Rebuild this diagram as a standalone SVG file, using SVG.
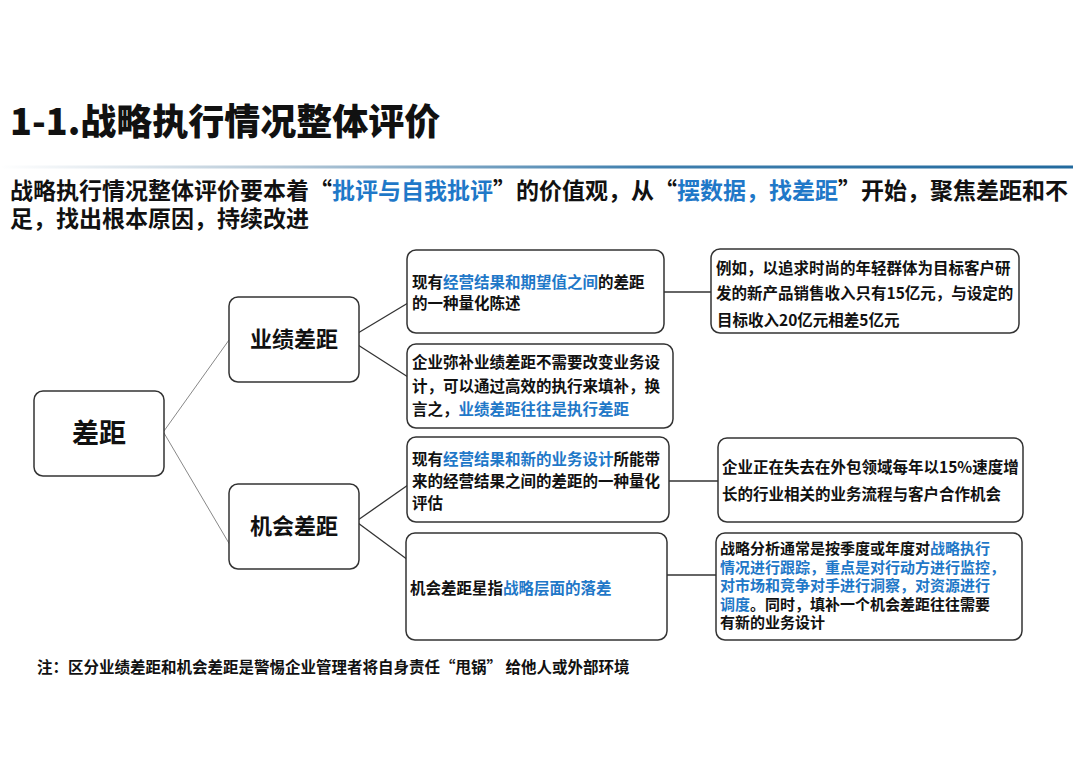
<svg xmlns="http://www.w3.org/2000/svg" width="1080" height="763" viewBox="0 0 1080 763">
<defs>
<linearGradient id="hl" x1="0" y1="0" x2="1" y2="0">
<stop offset="0" stop-color="#ffffff"/>
<stop offset="0.25" stop-color="#b9cbd9"/>
<stop offset="0.6" stop-color="#3f7fae"/>
<stop offset="1" stop-color="#226a9e"/>
</linearGradient>
</defs>
<style>
text{font-family:"Noto Sans CJK SC","Noto Sans",sans-serif;font-weight:bold;fill:#111}
.b{fill:#1f78c8}
.box{fill:#fff;stroke:#333;stroke-width:1.5}
.t{font-size:15.5px}
.s{font-size:15px}
.n{font-size:22px}
.c{stroke:#333;stroke-width:1.3;fill:none}
.cl{stroke:#888;stroke-width:1;fill:none}
</style>
<rect width="1080" height="763" fill="#fff"/>
<text x="10" y="135" style="font-size:36px;font-weight:900">1-1.战略执行情况整体评价</text>
<rect x="0" y="165.5" width="1073" height="3" fill="url(#hl)"/>
<text x="10" y="199" style="font-size:23px">战略执行情况整体评价要本着“<tspan class="b">批评与自我批评</tspan>”的价值观，从“<tspan class="b">摆数据，找差距</tspan>”开始，聚焦差距和不</text>
<text x="10" y="227" style="font-size:23px">足，找出根本原因，持续改进</text>

<g id="connectors">
<line class="cl" x1="164" y1="431" x2="229" y2="340"/>
<line class="cl" x1="164" y1="433" x2="230" y2="545"/>
<line class="c" x1="358" y1="333" x2="408" y2="303"/>
<line class="c" x1="358" y1="345" x2="408" y2="377"/>
<line class="c" x1="358" y1="520" x2="408" y2="485"/>
<line class="c" x1="358" y1="523" x2="408" y2="560"/>
<line class="c" x1="664" y1="292" x2="711" y2="292"/>
<line class="c" x1="669" y1="481" x2="718" y2="481"/>
<line class="c" x1="667" y1="575" x2="716" y2="575"/>
</g>

<g id="node-gap">
<rect class="box" x="34" y="391" width="130" height="85" rx="9"/>
<text x="99" y="443" text-anchor="middle" style="font-size:27px">差距</text>
</g>
<g id="node-perf">
<rect class="box" x="229" y="297" width="130" height="85" rx="9"/>
<text class="n" x="294" y="347" text-anchor="middle">业绩差距</text>
</g>
<g id="node-opp">
<rect class="box" x="229" y="484" width="130" height="85" rx="9"/>
<text class="n" x="294" y="534" text-anchor="middle">机会差距</text>
</g>
<g id="node-a">
<rect class="box" x="407" y="250" width="257" height="83" rx="9"/>
<text class="t" x="412" y="288">现有<tspan class="b">经营结果和期望值之间</tspan>的差距</text>
<text class="t" x="412" y="309">的一种量化陈述</text>
</g>
<g id="node-b">
<rect class="box" x="407" y="344" width="266" height="84" rx="9"/>
<text class="t" x="412" y="368">企业弥补业绩差距不需要改变业务设</text>
<text class="t" x="412" y="392">计，可以通过高效的执行来填补，换</text>
<text class="t" x="412" y="415">言之，<tspan class="b">业绩差距往往是执行差距</tspan></text>
</g>
<g id="node-c">
<rect class="box" x="407" y="437" width="262" height="85" rx="9"/>
<text class="t" x="412" y="465">现有<tspan class="b">经营结果和新的业务设计</tspan>所能带</text>
<text class="t" x="412" y="487">来的经营结果之间的差距的一种量化</text>
<text class="t" x="412" y="509">评估</text>
</g>
<g id="node-d">
<rect class="box" x="406" y="533" width="261" height="107" rx="9"/>
<text class="t" x="410" y="594">机会差距星指<tspan class="b">战略层面的落差</tspan></text>
</g>
<g id="node-e">
<rect class="box" x="711" y="249" width="308" height="84" rx="9"/>
<text class="t" x="716" y="274">例如，以追求时尚的年轻群体为目标客户研</text>
<text class="t" x="716" y="299">发的新产品销售收入只有15亿元，与设定的</text>
<text class="t" x="717" y="326">目标收入20亿元相差5亿元</text>
</g>
<g id="node-f">
<rect class="box" x="718" y="438" width="305" height="84" rx="9"/>
<text class="t" x="722" y="473">企业正在失去在外包领域每年以15%速度增</text>
<text class="t" x="722" y="500">长的行业相关的业务流程与客户合作机会</text>
</g>
<g id="node-g">
<rect class="box" x="716" y="533" width="306" height="107" rx="9"/>
<text class="s" x="720" y="554">战略分析通常是按季度或年度对<tspan class="b">战略执行</tspan></text>
<text class="s b" x="720" y="573">情况进行跟踪，重点是对行动方进行监控，</text>
<text class="s b" x="720" y="591">对市场和竞争对手进行洞察，对资源进行</text>
<text class="s" x="720" y="610"><tspan class="b">调度</tspan>。同时，填补一个机会差距往往需要</text>
<text class="s" x="720" y="628">有新的业务设计</text>
</g>
<text x="37" y="673" style="font-size:15.5px">注：区分业绩差距和机会差距是警惕企业管理者将自身责任“甩锅” 给他人或外部环境</text>
</svg>
